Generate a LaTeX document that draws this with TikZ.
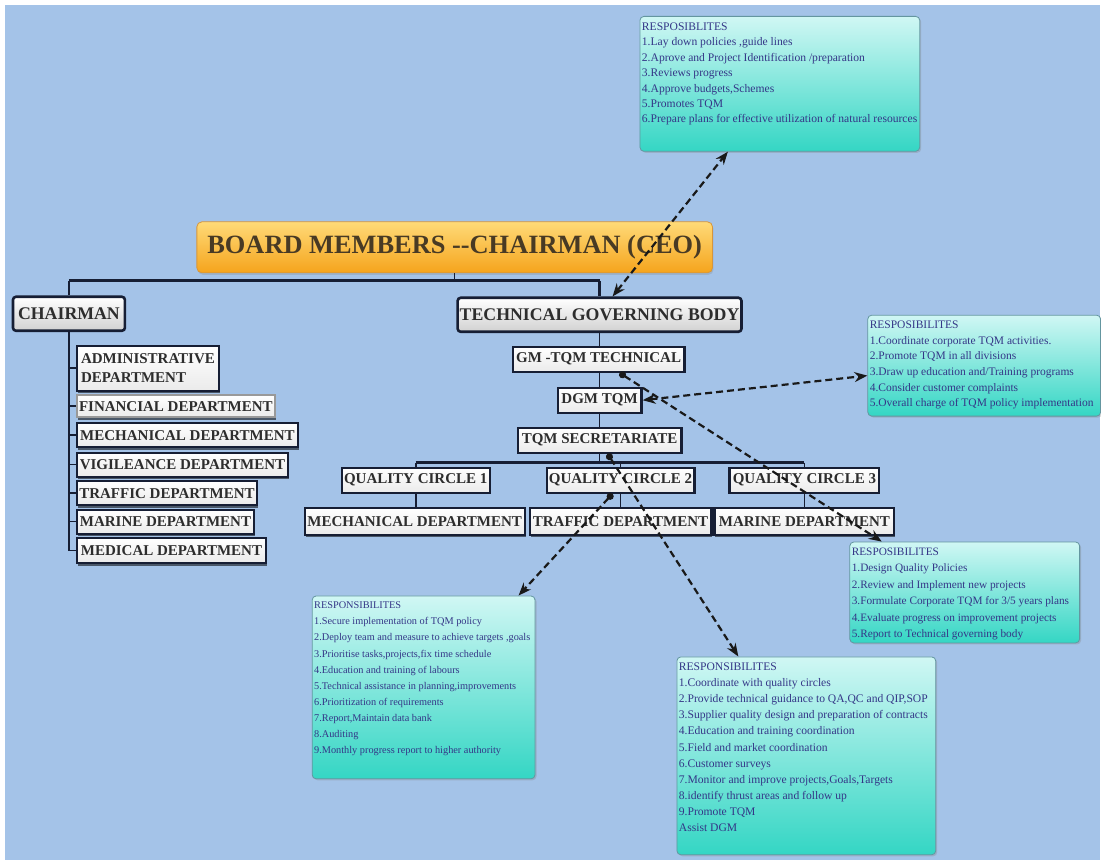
\documentclass[tikz,border=0pt]{standalone}
\usepackage{fontspec}
\setmainfont{Liberation Serif}
\usetikzlibrary{arrows.meta,shadows}

\definecolor{bgblue}{RGB}{164,195,232}
\definecolor{treenavy}{RGB}{22,30,52}
\definecolor{orgtext}{RGB}{45,45,45}
\definecolor{titletop}{RGB}{255,218,120}
\definecolor{titlebot}{RGB}{245,164,28}
\definecolor{titleline}{RGB}{214,150,60}
\definecolor{titletext}{RGB}{72,58,36}
\definecolor{resptop}{RGB}{208,247,244}
\definecolor{respbot}{RGB}{52,214,196}
\definecolor{respline}{RGB}{100,150,160}
\definecolor{resptext}{RGB}{52,54,135}

\newcommand{\resplist}[5]{\parbox[t][#2][t]{#1}{\fontsize{#3}{#4}\selectfont\raggedright #5}}

\tikzset{
  titlebox/.style={draw=titleline, line width=0.8pt, rounded corners=5pt,
    top color=titletop, bottom color=titlebot, text=titletext,
    font=\bfseries\fontsize{26.4}{28}\selectfont,
    minimum width=516pt, minimum height=51pt,
    drop shadow={shadow xshift=1pt, shadow yshift=-2pt, opacity=0.25}},
  orgbox/.style={draw=treenavy, line width=2.6pt, rounded corners=3pt,
    top color=white, bottom color=black!18, text=orgtext,
    font=\bfseries\fontsize{17.8}{18}\selectfont,
    inner xsep=2pt, minimum height=34pt},
  unitbox/.style={draw=treenavy, line width=2.2pt,
    top color=white, bottom color=black!8, text=orgtext,
    font=\bfseries\fontsize{15}{16}\selectfont,
    inner xsep=2pt, inner ysep=0pt, minimum height=25pt},
  deptbox/.style={unitbox, drop shadow={shadow xshift=1pt, shadow yshift=-2.5pt, fill=black, opacity=0.55}},
  respbox/.style={draw=respline, line width=0.8pt, rounded corners=4pt,
    top color=resptop, bottom color=respbot, text=resptext,
    inner xsep=2pt, inner ysep=6pt, anchor=north west,
    drop shadow={shadow xshift=1.5pt, shadow yshift=-1.5pt, opacity=0.3}},
  treeline/.style={treenavy, line width=2.6pt},
  tickline/.style={treenavy, line width=1.6pt},
  linkarrow/.style={black!90, line width=2.2pt, dash pattern=on 7pt off 4pt},
}

\begin{document}
\begin{tikzpicture}[x=1pt,y=-1pt]

	% background
	\fill[white] (0,0) rectangle (1101,861);
	\fill[bgblue] (5,5) rectangle (1101,861);

	% board and its two branches
	\node[titlebox] (board) at (455,247.5) {BOARD MEMBERS -{}-CHAIRMAN (CEO)};
	\node[orgbox, minimum width=112pt] (chair) at (69,314) {CHAIRMAN};
	\node[orgbox, minimum width=284pt] (tgb) at (600,315) {TECHNICAL GOVERNING BODY};

	% departments under the chairman
	\node[deptbox, anchor=west, minimum width=142pt, minimum height=45pt, align=left,
	      font=\bfseries\fontsize{15}{19}\selectfont] (admin) at (76,368.5) {ADMINISTRATIVE\\DEPARTMENT};
	\node[deptbox, anchor=west, minimum width=197pt, minimum height=22pt, draw=black!40] (finance) at (76,406.5) {FINANCIAL DEPARTMENT};
	\node[deptbox, anchor=west, minimum width=221pt, minimum height=24pt] (mech) at (76,435.5) {MECHANICAL DEPARTMENT};
	\node[deptbox, anchor=west, minimum width=211pt, minimum height=24pt] (vigil) at (76,465) {VIGILEANCE DEPARTMENT};
	\node[deptbox, anchor=west, minimum width=180pt, minimum height=24pt] (traffic) at (76,493.5) {TRAFFIC DEPARTMENT};
	\node[deptbox, anchor=west, minimum width=177pt, minimum height=24pt] (marine) at (76,522) {MARINE DEPARTMENT};
	\node[deptbox, anchor=west, minimum width=189pt, minimum height=25pt] (medical) at (76,551) {MEDICAL DEPARTMENT};

	% technical chain
	\node[unitbox, minimum width=172pt] (gm) at (599,359.5) {GM -TQM TECHNICAL};
	\node[unitbox, minimum width=84pt] (dgm) at (600,400.5) {DGM TQM};
	\node[unitbox, minimum width=164pt] (sec) at (600,440.5) {TQM SECRETARIATE};
	\node[unitbox, minimum width=148pt] (qc1) at (416,480.5) {QUALITY CIRCLE 1};
	\node[unitbox, minimum width=148pt] (qc2) at (621,480.5) {QUALITY CIRCLE 2};
	\node[unitbox, minimum width=150pt] (qc3) at (805,480.5) {QUALITY CIRCLE 3};
	\node[deptbox, minimum width=220pt, minimum height=27pt] (mech2) at (415,521.5) {MECHANICAL DEPARTMENT};
	\node[deptbox, minimum width=182pt, minimum height=27pt] (traffic2) at (621,521.5) {TRAFFIC DEPARTMENT};
	\node[deptbox, minimum width=180pt, minimum height=27pt] (marine2) at (805,521.5) {MARINE DEPARTMENT};

	% responsibilities
	\node[respbox] (respA) at (640,16) {\resplist{276pt}{123pt}{11.6}{15.5}{RESPOSIBLITES\\
		1.Lay down policies ,guide lines\\
		2.Aprove and Project Identification /preparation\\
		3.Reviews progress\\
		4.Approve budgets,Schemes\\
		5.Promotes TQM\\
		6.Prepare plans for effective utilization of natural resources}};
	\node[respbox] (respB) at (868,315) {\resplist{229pt}{89pt}{11.5}{15.6}{RESPOSIBILITES\\
		1.Coordinate corporate TQM activities.\\
		2.Promote TQM in all divisions\\
		3.Draw up education and/Training programs\\
		4.Consider customer complaints\\
		5.Overall charge of TQM policy implementation}};
	\node[respbox] (respC) at (850,542) {\resplist{226pt}{89pt}{11.3}{16.4}{RESPOSIBILITES\\
		1.Design Quality Policies\\
		2.Review and Implement new projects\\
		3.Formulate Corporate TQM for 3/5 years plans\\
		4.Evaluate progress on improvement projects\\
		5.Report to Technical governing body}};
	\node[respbox] (respD) at (312,596) {\resplist{219pt}{171pt}{10.3}{16.1}{RESPONSIBILITES\\
		1.Secure implementation of TQM policy\\
		2.Deploy team and measure to achieve targets ,goals\\
		3.Prioritise tasks,projects,fix time schedule\\
		4.Education and training of labours\\
		5.Technical assistance in planning,improvements\\
		6.Prioritization of requirements\\
		7.Report,Maintain data bank\\
		8.Auditing\\
		9.Monthly progress report to higher authority}};
	\node[respbox] (respE) at (677,657) {\resplist{255pt}{186pt}{11.6}{16.1}{RESPONSIBILITES\\
		1.Coordinate with quality circles\\
		2.Provide technical guidance to QA,QC and QIP,SOP\\
		3.Supplier quality design and preparation of contracts\\
		4.Education and training coordination\\
		5.Field and market coordination\\
		6.Customer surveys\\
		7.Monitor and improve projects,Goals,Targets\\
		8.identify thrust areas and follow up\\
		9.Promote TQM\\
		Assist DGM}};

	% tree lines
	\coordinate (busL) at (69,281);
	\coordinate (busR) at (600,281);
	\draw[treeline] (busL) -- (busR);
	\draw[tickline] (board.south) -- (board.south |- busL);
	\draw[treeline] (busL) -- (chair.north);
	\draw[treeline] (busR) -- (tgb.north);
	\draw[treeline] (chair.south) -- (chair.south |- medical.west);
	\draw[tickline] (chair.south |- admin.west) -- (admin.west);
	\draw[tickline] (chair.south |- finance.west) -- (finance.west);
	\draw[tickline] (chair.south |- mech.west) -- (mech.west);
	\draw[tickline] (chair.south |- vigil.west) -- (vigil.west);
	\draw[tickline] (chair.south |- traffic.west) -- (traffic.west);
	\draw[tickline] (chair.south |- marine.west) -- (marine.west);
	\draw[tickline] (chair.south |- medical.west) -- (medical.west);

	\draw[tickline] (tgb.south) -- (tgb.south |- gm.north);
	\draw[tickline] (gm.south -| dgm.north) -- (dgm.north);
	\draw[tickline] (dgm.south) -- (sec.north);
	\coordinate (busQL) at (416,463);
	\coordinate (busQR) at (805,463);
	\draw[treeline] (busQL) -- (busQR);
	\draw[tickline] (sec.south) -- (sec.south |- busQL);
	\draw[tickline] (qc1.north |- busQL) -- (qc1.north);
	\draw[tickline] (qc2.north |- busQL) -- (qc2.north);
	\draw[tickline] (qc3.north |- busQL) -- (qc3.north);
	\draw[tickline] (qc1.south) -- (qc1.south |- mech2.north);
	\draw[tickline] (qc2.south) -- (qc2.south |- traffic2.north);
	\draw[tickline] (qc3.south) -- (qc3.south |- marine2.north);

	% dashed links to the responsibilities
	\draw[linkarrow, {Stealth[length=13pt,width=10pt]}-{Stealth[length=13pt,width=10pt]}] ([xshift=13pt]tgb.north) -- ([xshift=-52pt]respA.south);
	\draw[linkarrow, {Stealth[length=13pt,width=10pt]}-{Stealth[length=13pt,width=10pt]}] (dgm.east) -- ([yshift=-10pt]respB.west);
	\draw[linkarrow, {Circle[length=7pt]}-{Stealth[length=13pt,width=10pt]}] ([xshift=21pt]gm.south) -- ([xshift=-83pt]respC.north);
	\draw[linkarrow, {Circle[length=7pt]}-{Stealth[length=13pt,width=10pt]}] ([xshift=-8pt]qc2.south) -- ([xshift=95pt]respD.north);
	\draw[linkarrow, {Circle[length=7pt]}-{Stealth[length=13pt,width=10pt]}] ([xshift=8pt]sec.south) -- ([xshift=-68pt]respE.north);

\end{tikzpicture}
\end{document}
